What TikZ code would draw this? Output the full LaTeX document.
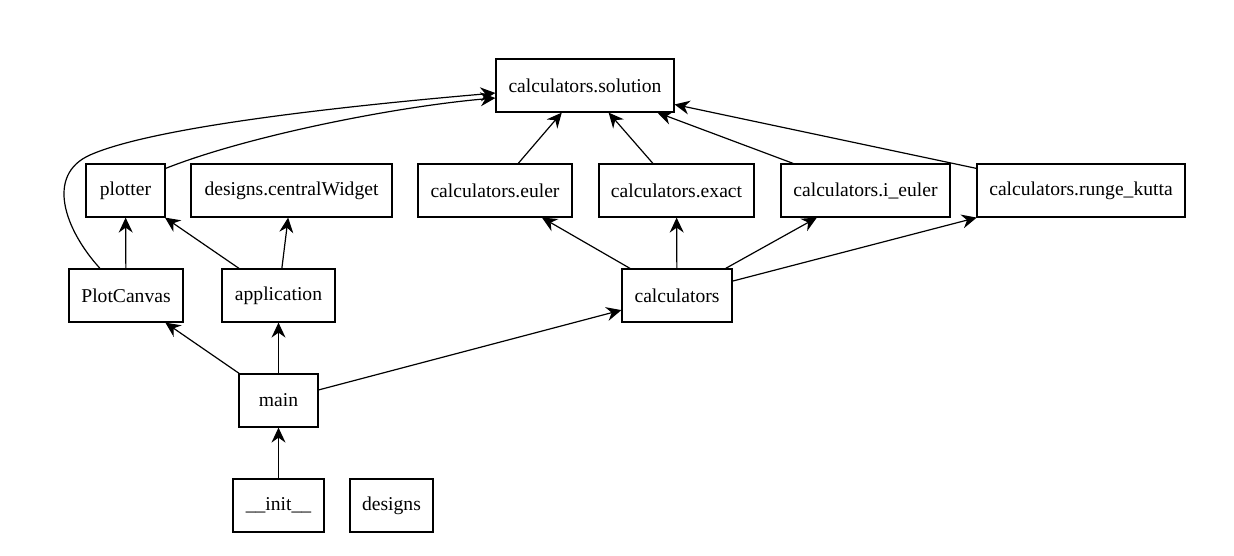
\documentclass[tikz,border=0pt]{standalone}
\usepackage{fontspec}
\setmainfont{Liberation Serif}
\usetikzlibrary{arrows.meta,calc}
\begin{document}
\begin{tikzpicture}[x=1pt,y=-1pt,
  box/.style={draw, line width=1.2pt, minimum height=53pt, inner sep=0pt,
    font=\fontsize{19.6}{22}\selectfont},
  dep/.style={-{Stealth[length=15pt,width=14pt,inset=5pt]}, line width=1.2pt},
]
\useasboundingbox (0,0) rectangle (1234,555);
\node[box, minimum width=178pt] (sol) at (585,85.5) {calculators.solution};
\node[box, minimum width=79pt] (plotter) at (125.5,190.5) {plotter};
\node[box, minimum width=201pt] (cw) at (291.5,190.5) {designs.centralWidget};
\node[box, minimum width=154pt] (euler) at (495,190.5) {calculators.euler};
\node[box, minimum width=155pt] (exact) at (676.5,190.5) {calculators.exact};
\node[box, minimum width=169pt] (ieuler) at (865.5,190.5) {calculators.i\_euler};
\node[box, minimum width=208pt] (rk) at (1081,190.5) {calculators.runge\_kutta};
\node[box, minimum width=114pt] (pc) at (126,295.5) {PlotCanvas};
\node[box, minimum width=113pt] (app) at (278.5,295.5) {application};
\node[box, minimum width=110pt] (calc) at (677,295.5) {calculators};
\node[box, minimum width=79pt] (main) at (278.5,400.5) {main};
\node[box, minimum width=91pt] (init) at (278.5,505.5) {\_\_init\_\_};
\node[box, minimum width=83pt] (designs) at (391.5,505.5) {designs};

\coordinate (pcs) at ($(pc.north)+(-26,0)$);
\coordinate (solA) at ($(sol.west)+(0,7.5)$);
\coordinate (pls) at ($(plotter.north east)+(0,5)$);
\coordinate (solB) at ($(sol.west)+(0,12.5)$);

\draw[dep] (pcs) .. controls (65,230) and (45,175) .. (90,155)
  .. controls (160,124) and (380,103) .. (solA);
\draw[dep] (pls) .. controls (250,135) and (400,106) .. (solB);
\draw[dep] (euler) -- (sol);
\draw[dep] (exact) -- (sol);
\draw[dep] (ieuler) -- (sol);
\draw[dep] (rk) -- (sol);
\draw[dep] (pc) -- (plotter);
\draw[dep] (app) -- (plotter);
\draw[dep] (app) -- (cw);
\draw[dep] (calc) -- (euler);
\draw[dep] (calc) -- (exact);
\draw[dep] (calc) -- (ieuler);
\draw[dep] (calc) -- (rk);
\draw[dep] (main) -- (pc);
\draw[dep] (main) -- (app);
\draw[dep] (main) -- (calc);
\draw[dep] (init) -- (main);
\end{tikzpicture}
\end{document}
